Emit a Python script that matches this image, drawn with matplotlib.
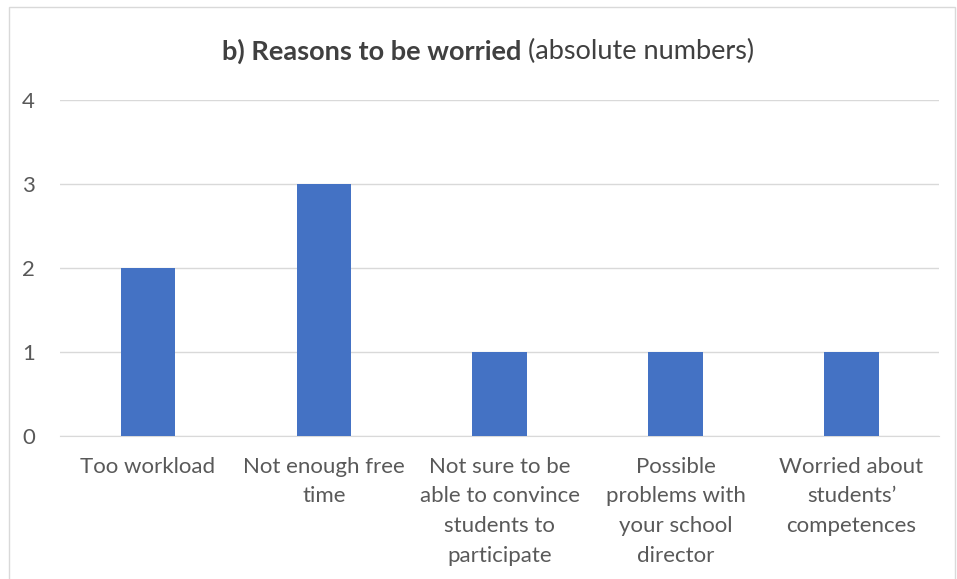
import matplotlib
matplotlib.use("Agg")
import matplotlib.pyplot as plt
from matplotlib.patches import Rectangle

categories = ["Too workload", "Not enough free\ntime", "Not sure to be\nable to convince\nstudents to\nparticipate",
              "Possible\nproblems with\nyour school\ndirector", "Worried about\nstudents’\ncompetences"]
values = [2, 3, 1, 1, 1]
yticks = [0, 1, 2, 3, 4]

plt.rcParams['font.family'] = ['Lato', 'DejaVu Sans']
fig = plt.figure(figsize=(9.57, 5.79), dpi=100)
ax = fig.add_axes([0.0627, 0.247, 0.919, 0.580])

x = list(range(len(categories)))
ax.bar(x, values, width=0.31, color='#4472C4', zorder=3)
ax.set_xlim(-0.5, len(categories) - 0.5)
ax.set_ylim(0, 4)
ax.set_yticks(yticks)
ax.set_yticklabels([str(t) for t in yticks], fontsize=16, color='#595959')
ax.set_xticks(x)
ax.set_xticklabels(categories, fontsize=16, color='#595959', linespacing=1.6)
ax.tick_params(axis='x', length=0, pad=15)
ax.tick_params(axis='y', length=0, pad=18)
ax.grid(axis='y', color='#d9d9d9', linewidth=1, zorder=0)
for s in ['top', 'right', 'left']:
    ax.spines[s].set_visible(False)
ax.spines['bottom'].set_color('#d9d9d9')

# chart border
fig.patches.append(Rectangle((9 / 957, -0.01), 946 / 957, 0.998, transform=fig.transFigure,
                             fill=False, edgecolor='#d9d9d9', linewidth=1))

# title with bold and normal part
fig.canvas.draw()
r = fig.canvas.get_renderer()
t1 = fig.text(0, 1 - 51 / 579, "b) Reasons to be worried", fontsize=19.5, fontweight='bold',
              color='#404040', va='center')
t2 = fig.text(0, 1 - 51 / 579, " (absolute numbers)", fontsize=19.5, color='#404040', va='center')
w1 = t1.get_window_extent(r).width
w2 = t2.get_window_extent(r).width
start = 488 - (w1 + w2) / 2
t1.set_x(start / 957)
t2.set_x((start + w1) / 957)

fig.savefig("out.png", dpi=100)
